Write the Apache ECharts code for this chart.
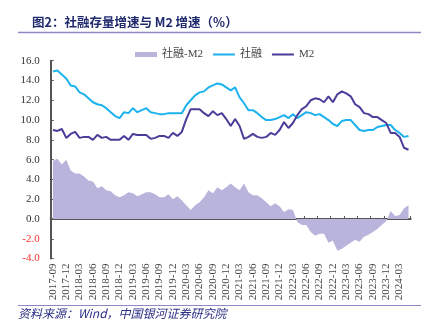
<!DOCTYPE html>
<html><head><meta charset="utf-8">
<script src="https://cdn.jsdelivr.net/npm/echarts@6/dist/echarts.min.js"></script>
<style>html,body{margin:0;padding:0;background:#fff}#c{width:433px;height:331px}</style>
</head><body><div id="c"></div>
<script>
// monthly categories 2017-09 .. 2024-05
var categories = [];
(function(){var y=2017,m=9;for(var k=0;k<81;k++){categories.push(y+'-'+(m<10?'0'+m:m));m++;if(m>12){m=1;y++;}}})();

var tsf = [14.9,15.0,14.6,14.2,13.5,13.4,12.8,12.6,12.2,11.8,11.6,11.5,11.2,10.8,10.4,10.2,
  10.8,10.7,11.2,10.8,11.0,11.2,10.8,10.7,10.6,10.6,10.7,10.7,
  10.7,10.7,11.5,12.0,12.5,12.8,12.9,13.3,13.5,13.7,13.6,13.3,
  13.0,13.3,12.3,11.7,11.0,11.0,10.7,10.3,10.0,10.0,10.1,10.3,
  10.5,10.2,10.6,10.2,10.5,10.8,10.7,10.5,10.6,10.3,10.0,9.6,
  9.4,9.9,10.0,10.0,9.5,9.0,8.9,9.0,9.0,9.3,9.4,9.5,
  9.5,9.0,8.7,8.3,8.4];
var m2 = [9.0,8.9,9.1,8.2,8.6,8.8,8.2,8.3,8.3,8.0,8.5,8.2,8.3,8.0,8.0,8.0,
  8.4,8.0,8.6,8.5,8.5,8.5,8.1,8.2,8.4,8.4,8.2,8.7,
  8.4,8.8,10.1,11.1,11.1,11.1,10.7,10.4,10.9,10.5,10.7,10.1,
  9.4,10.1,9.4,8.1,8.3,8.6,8.3,8.2,8.3,8.7,8.5,9.0,
  9.8,9.2,9.7,10.5,11.1,11.4,12.0,12.2,12.1,11.8,12.4,11.8,
  12.6,12.9,12.7,12.4,11.6,11.3,10.7,10.6,10.3,10.3,10.0,9.7,
  8.7,8.7,8.3,7.2,7.0];
var spread = [5.9,6.1,5.5,6.0,4.9,4.6,4.6,4.3,3.9,3.8,3.1,3.3,2.9,2.8,2.4,2.2,
  2.4,2.7,2.6,2.3,2.5,2.7,2.7,2.5,2.2,2.2,2.5,2.0,
  2.3,1.9,1.4,0.9,1.4,1.7,2.2,2.9,2.6,3.2,2.9,3.2,
  3.6,3.2,2.9,3.6,2.7,2.4,2.4,2.1,1.7,1.3,1.6,1.3,
  0.7,1.0,0.9,-0.3,-0.6,-0.6,-1.3,-1.7,-1.5,-1.5,-2.4,-2.2,
  -3.2,-3.0,-2.7,-2.4,-2.1,-2.3,-1.8,-1.6,-1.3,-1.0,-0.6,-0.2,
  0.8,0.3,0.4,1.1,1.4];
var seriesNames = ['社融-M2','社融','M2'];
var titleText = '图2：社融存量增速与 M2 增速（%）';
var sourceText = '资料来源：Wind，中国银河证券研究院';

var serif = '"Liberation Serif","Noto Sans CJK SC",serif';
var lineIcon = 'path://M0,0h0.05v0.05h-0.05z M0,1.5h22v2h-22z M21.95,4.95h0.05v0.05h-0.05z';
var chart = echarts.init(document.getElementById('c'));
chart.setOption({
  animation: false,
  backgroundColor: '#fff',
  graphic: [
    {type:'text', left:32, top:16, style:{text:titleText, font:'bold 12.5px "Noto Sans CJK SC",sans-serif', fill:'#1f2a6e'}},
    {type:'line', shape:{x1:18,y1:32.5,x2:421,y2:32.5}, style:{stroke:'#8f88c4', lineWidth:1.5}},
    {type:'line', shape:{x1:18,y1:305.5,x2:421,y2:305.5}, style:{stroke:'#8f88c4', lineWidth:1}},
    {type:'text', left:18, top:307, style:{text:sourceText, font:'italic 12px "Noto Sans CJK SC",sans-serif', fill:'#2b2f85'}}
  ],
  legend: {
    top: 44, left: 130, itemWidth: 22, itemHeight: 5, itemGap: 10,
    textStyle: {fontFamily: serif, fontSize: 11, color: '#444'},
    data: [{name:seriesNames[0], icon:'rect'}, {name:seriesNames[1], icon:lineIcon}, {name:seriesNames[2], icon:lineIcon}]
  },
  grid: {left: 50.7, right: 22.3, top: 60.7, bottom: 72.4, containLabel: false},
  xAxis: [
    {type:'category', data: categories, boundaryGap: true, position:'bottom',
     axisLine:{show:false, onZero:false}, axisTick:{show:false},
     axisLabel:{interval:2, rotate:90, margin:5, fontFamily: serif, fontSize: 11, color:'#444'}},
    {type:'category', data: categories, boundaryGap: true, position:'top',
     axisLine:{show:true, onZero:true, lineStyle:{color:'#555', width:2}},
     axisTick:{show:true, interval:2, length:3, lineStyle:{color:'#555', width:1}},
     axisLabel:{show:false}}
  ],
  yAxis: {
    type:'value', min:-4, max:16, interval:2,
    axisLine:{show:true, lineStyle:{color:'#555', width:2}},
    axisTick:{show:true, inside:true, length:3, lineStyle:{color:'#555'}},
    splitLine:{show:false},
    axisLabel:{margin:11, fontFamily: serif, fontSize: 11,
      formatter:function(v){return v.toFixed(1);},
      color:function(v){return Number(v) < 0 ? '#ff3030' : '#333';}}
  },
  series: [
    {name:seriesNames[0], type:'line', xAxisIndex:0, data: spread, symbol:'none', smooth:false,
     lineStyle:{width:0}, itemStyle:{color:'#b9b4db'}, areaStyle:{color:'#b9b4db', opacity:1}, z:1},
    {name:seriesNames[1], type:'line', xAxisIndex:0, data: tsf, symbol:'none',
     lineStyle:{width:2, color:'#1cb2ee'}, itemStyle:{color:'#1cb2ee'}, z:3},
    {name:seriesNames[2], type:'line', xAxisIndex:0, data: m2, symbol:'none',
     lineStyle:{width:2, color:'#4a3c98'}, itemStyle:{color:'#4a3c98'}, z:3}
  ]
});
</script></body></html>
